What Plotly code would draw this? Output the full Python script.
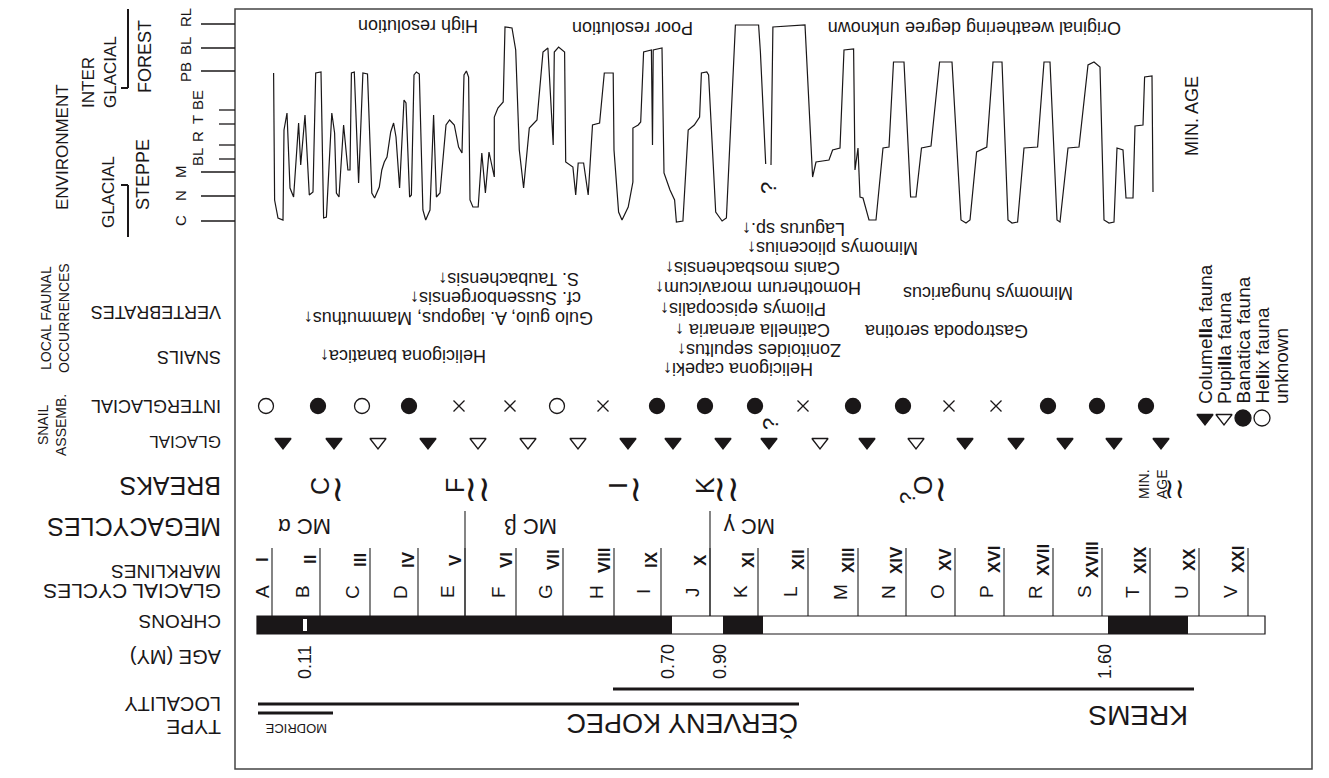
import plotly.graph_objects as go

W, H = 1329, 778
PAGE_MARGIN = 8  # default body margin of the html page
FONT = "Liberation Sans, Arial, sans-serif"
INK = "#1a1718"

# ---------------- environment curve (drawing units: x position, environment level) ----------------
env_x = [273.6, 274.6, 278, 283, 284, 287, 290, 293.6, 298.6, 300.7, 305, 309.3, 313, 315.7, 321, 323.6,
         326.4, 331.8, 334.6, 336.4, 339, 343.6, 347.9, 350, 351.4, 354.3, 358.6, 362.9, 367.5, 371.8,
         374.6, 379.3, 381.8, 384.3, 387, 390.7, 393.6, 396, 399.6, 404, 406, 409.6, 411.4, 414, 416.4,
         419.3, 422.9, 425.7, 430, 433.6, 436.4, 440, 446, 449.6, 454.3, 458.6, 462, 464, 466.4, 468.6,
         470, 472.9, 478.2, 481.8, 485.4, 489, 494.3, 494.3, 497.9, 503.2, 505, 512, 515.7, 519.3, 523.6,
         529.3, 537, 543, 547.9, 553.2, 554.3, 558.6, 564.6, 565.7, 572.9, 575.7, 578.2, 583.6, 588.2,
         592.5, 599.6, 604.3, 613.2, 614, 618.6, 622, 628.2, 632.9, 632.9, 638.2, 640.7, 643.6, 651.4,
         652.5, 653.2, 662, 664, 670, 674.6, 676.4, 682.9, 688.2, 694.3, 699.6, 701.4, 706.8, 708.6,
         715.7, 722.1, 726.4, 735.4, 758.6, 760.4, 763.9, 765.7, None,
         771, 772.9, 805, 812.6, 816, 829, 832.6, 840, 844, 853.6, 855, 858, 860, 863, 869, 876, 883, 889,
         893.5, 904, 910.6, 916, 921.5, 931, 939.6, 952, 961, 966, 970, 976.6, 986.8, 993, 1002, 1008,
         1012, 1017.6, 1024, 1037.6, 1044, 1050, 1057, 1060, 1068, 1079, 1088, 1094, 1100, 1104, 1109,
         1114, 1117, 1123, 1126, 1133, 1135, 1143, 1144.6, 1152, 1153]
env_y = [73, 200, 218, 220, 130, 113, 188, 197, 123, 165, 115, 195, 192, 73, 72, 218,
         217, 113, 133, 193, 197, 125, 170, 170, 73, 72, 183, 73, 74, 193,
         198, 187, 170, 162, 157, 132, 123, 137, 188, 100, 103, 197, 195, 75, 72,
         74, 210, 220, 210, 115, 197, 193, 125, 120, 125, 147, 153, 75, 71, 77,
         200, 207, 207, 153, 193, 152, 177, 117, 108, 102, 27, 28, 50, 150, 188,
         128, 120, 52, 48, 145, 52, 47, 52, 162, 167, 195, 163, 163, 195,
         125, 123, 73, 73, 150, 212, 220, 207, 182, 128, 125, 122, 52, 50,
         145, 50, 48, 173, 190, 200, 222, 221, 130, 125, 117, 73, 72, 75,
         212, 221, 218, 25, 25, 52, 137, 164, None,
         165, 27, 25, 177, 162, 160, 150, 148, 50, 49, 170, 148, 197, 198, 220, 220, 148, 147,
         62, 62, 197, 197, 148, 146, 62, 62, 220, 223, 220, 152, 147, 62, 62, 220,
         223, 222, 148, 147, 62, 62, 220, 222, 148, 147, 65, 62, 67, 220, 223,
         222, 148, 150, 198, 198, 126, 125, 77, 76, 192]

env_tick_y = [24, 48, 71, 110, 124, 145, 159, 172, 196, 221]
env_tick_long = [True, True, True, False, False, False, False, True, True, True]
env_tick_text = ["RL", "BL", "PB", "BE", "T", "R", "BL", "M", "N", "C"]
env_tick_text_y = [18, 46, 72, 100, 120, 137, 157, 172, 196, 221]
env_tick_text_x = [185, 185, 185, 197, 197, 197, 197, 180, 180, 180]

# ---------------- snail assemblages ----------------
inter_x = [266, 318, 362, 409, 459, 510, 557, 603, 657, 705, 755, 803, 853, 903, 949, 996, 1048, 1097, 1146]
inter_kind = ["o", "f", "o", "f", "x", "x", "o", "x", "f", "f", "f", "x", "f", "f", "x", "x", "f", "f", "f"]
glac_x = [283, 334, 378, 428, 478, 528, 578, 628, 673, 723, 769, 820, 867, 916, 965, 1016, 1065, 1114, 1161]
glac_kind = ["f", "f", "o", "f", "o", "o", "o", "f", "f", "f", "f", "o", "f", "o", "f", "f", "f", "f", "f"]

# ---------------- faunal occurrences ----------------
vert_text = ["S. Taubachensis↑", "cf. Sussenborgensis↑", "Gulo gulo, A. lagopus, Mammuthus↑",
             "Lagurus sp.↑", "Mimomys pliocenius↑", "Canis mosbachensis↑", "Homotherum moravicum↑",
             "Pliomys episcopalis↑"]
vert_x = [436, 408, 302, 740, 745, 663, 653, 658]
vert_y = [279, 298, 318, 229, 248, 268, 288, 309]
snail_text = ["Helicigona banatica↑", "Catinella arenaria ↑", "Zonitoides sepultus↑", "Helicigona capeki↑"]
snail_x = [318, 673, 675, 661]
snail_y = [356, 330, 350, 369]
other_text = ["Mimomys hungaricus", "Gastropoda serotina"]
other_right = [1075, 1030]
other_y = [293, 331]

# ---------------- cycles ----------------
cycle_letters = list("ABCDEFGHIJKLMNOPRSTUV")
cycle_numerals = ["I", "II", "III", "IV", "V", "VI", "VII", "VIII", "IX", "X", "XI", "XII", "XIII",
                  "XIV", "XV", "XVI", "XVII", "XVIII", "XIX", "XX", "XXI"]
cycle_bounds = [272, 320, 370, 418, 465, 516, 563, 614, 661, 710, 758, 808, 858, 906, 955,
                1004, 1053, 1102, 1150, 1199, 1248]
mega_bounds = [465, 710]
mega_labels = ["MC α", "MC β", "MC γ"]
mega_x = [305, 531, 750]

breaks_letters = ["C", "F", "I", "K", "O"]
breaks_x = [320, 455, 618, 705, 923]
breaks_wave = ["≀", "≀≀", "≀", "≀≀", "≀"]
breaks_wave_x = [338, 477, 636, 726, 941]

# ---------------- chrons / ages / localities ----------------
chron_edges = [257, 672, 723, 763, 1108, 1188, 1265]
chron_black = [True, False, True, False, True, False]
age_labels = ["0.11", "0.70", "0.90", "1.60"]
age_x = [305, 668, 720, 1105]
loc_names = ["MODRICE", "ČERVENY KOPEC", "KREMS"]
loc_start = [258, 258, 613]
loc_end = [333, 799, 1194]
loc_line_y = [713, 704, 689]

legend_text = ["Colume<b>ll</b>a fauna", "Pupi<b>ll</b>a fauna", "Banatica fauna", "He<b>l</b>ix fauna", "unknown"]
legend_x = [1205, 1224, 1243, 1262, 1281]

fig = go.Figure()

fig.add_trace(go.Scatter(x=env_x, y=env_y, mode="lines", line=dict(color=INK, width=1.2),
                         connectgaps=False, hoverinfo="skip"))


def sym(kind, tri):
    if kind == "x":
        return "x-thin-open"
    if tri:
        return "triangle-down" if kind == "f" else "triangle-down-open"
    return "circle" if kind == "f" else "circle-open"


for xs, kinds, yrow, tri in [(inter_x, inter_kind, 406, False), (glac_x, glac_kind, 442, True)]:
    fig.add_trace(go.Scatter(
        x=xs, y=[yrow] * len(xs), mode="markers", hoverinfo="skip", opacity=1,
        marker=dict(symbol=[sym(k, tri) for k in kinds],
                    size=[11 if k == "x" else (14 if tri else 15) for k in kinds],
                    color=INK, opacity=1, line=dict(color=INK, width=1.3))))

fig.add_trace(go.Scatter(
    x=legend_x[:4], y=[418] * 4, mode="markers", hoverinfo="skip",
    marker=dict(symbol=["triangle-down", "triangle-down-open", "circle", "circle-open"],
                size=[14, 14, 16, 16], color=INK, opacity=1, line=dict(color=INK, width=1.3))))

shapes = []
shapes.append(dict(type="rect", x0=235, y0=9, x1=1312, y1=769, line=dict(color="#444", width=1.5)))
for yv, lg in zip(env_tick_y, env_tick_long):
    shapes.append(dict(type="line", x0=201 if lg else 219, x1=235, y0=yv, y1=yv,
                       line=dict(color=INK, width=1.3)))
shapes += [dict(type="line", x0=128, x1=128, y0=9, y1=88, line=dict(color=INK, width=2)),
           dict(type="line", x0=121, x1=128, y0=88, y1=88, line=dict(color=INK, width=2)),
           dict(type="line", x0=128, x1=128, y0=185, y1=237, line=dict(color=INK, width=2)),
           dict(type="line", x0=121, x1=128, y0=185, y1=185, line=dict(color=INK, width=2))]
for b in cycle_bounds:
    shapes.append(dict(type="line", x0=b, x1=b, y0=548, y1=617, line=dict(color="#333", width=1.2)))
for b in mega_bounds:
    shapes.append(dict(type="line", x0=b, x1=b, y0=511, y1=617, line=dict(color="#333", width=1.2)))
for a, b, blk in zip(chron_edges[:-1], chron_edges[1:], chron_black):
    shapes.append(dict(type="rect", x0=a, x1=b, y0=616, y1=634, line=dict(width=0),
                       fillcolor=INK if blk else "white"))
shapes.append(dict(type="rect", x0=chron_edges[0], x1=chron_edges[-1], y0=616, y1=634,
                   line=dict(color=INK, width=1.2)))
shapes.append(dict(type="rect", x0=age_x[0] - 2, x1=age_x[0] + 2, y0=619, y1=631,
                   line=dict(width=0), fillcolor="white"))
for a, b, yv in zip(loc_start, loc_end, loc_line_y):
    shapes.append(dict(type="line", x0=a, x1=b, y0=yv, y1=yv, line=dict(color=INK, width=3)))

ann = []


def T(x, y, s, size, angle=0, xa="center", ya="middle", align="center", family=FONT):
    ann.append(dict(x=x, y=y, text=s, showarrow=False, textangle=angle, xanchor=xa, yanchor=ya,
                    align=align, font=dict(family=family, size=size, color=INK), xref="x", yref="y"))


T(62, 147, "ENVIRONMENT", 17, -90)
T(99, 110, "INTER<br>GLACIAL", 17, -90, ya="bottom", align="left")
T(145, 57, "FOREST", 18, -90)
T(108, 192, "GLACIAL", 17, -90)
T(143, 175, "STEPPE", 18, -90)
for tx, ty, s in zip(env_tick_text_x, env_tick_text_y, env_tick_text):
    T(tx, ty, s, 15, -90)
T(1192, 116, "MIN. AGE", 18, -90)

T(418, 26, "High resolution", 18, 180)
T(633, 28, "Poor resolution", 18, 180)
T(975, 28, "Original weathering degree unknown", 18, 180)
T(768, 188, "?", 22, -90)
T(770, 424, "?", 22, -90)

T(55, 318, "LOCAL FAUNAL<br>OCCURRENCES", 14, -90)
T(52, 425, "SNAIL<br>ASSEMB.", 14, -90)
row_lbl = ["VERTEBRATES", "SNAILS", "INTERGLACIAL", "GLACIAL", "BREAKS", "MEGACYCLES",
           "MARKLINES", "GLACIAL CYCLES", "CHRONS", "AGE (MY)", "LOCALITY", "TYPE"]
row_y = [312, 357, 406, 442, 486, 527, 572, 592, 622, 657, 704, 728]
row_size = [18, 18, 18, 17, 25, 25, 19, 21, 19, 20, 20, 21]
for s, yv, sz in zip(row_lbl, row_y, row_size):
    T(223, yv, s, sz, 180, xa="right")

for s, xv, yv in zip(vert_text + snail_text, vert_x + snail_x, vert_y + snail_y):
    T(xv, yv, s, 18, 180, xa="left")
for s, xv, yv in zip(other_text, other_right, other_y):
    T(xv, yv, s, 18, 180, xa="right")

for s, xv in zip(legend_text, legend_x):
    T(xv, 406, s, 19, -90, ya="bottom")

for s, xv in zip(breaks_letters, breaks_x):
    T(xv, 486, s, 25, -90)
for s, xv in zip(breaks_wave, breaks_wave_x):
    T(xv, 488, s, 36, 0, family="DejaVu Sans")
T(907, 498, "?", 22, -90)
T(1153, 484, "MIN.<br>AGE", 14, -90)
T(1174, 488, "≀≀", 28, 0, family="DejaVu Sans")

for s, xv in zip(mega_labels, mega_x):
    T(xv, 527, s, 22, 180)

for i, (L, N, b) in enumerate(zip(cycle_letters, cycle_numerals, cycle_bounds)):
    T(b - (10 if i == 0 else 18), 592, L, 19, -90)
    T(b - 10, 560, "<b>" + N + "</b>", 17, -90)

for s, xv in zip(age_labels, age_x):
    T(xv, 662, s, 18, -90)

T(296, 729, loc_names[0], 13, 180)
T(800, 724, loc_names[1], 27, 180, xa="right")
T(1190, 716, loc_names[2], 28, 180, xa="right")

fig.update_layout(
    width=W - 2 * PAGE_MARGIN, height=H - 2 * PAGE_MARGIN, margin=dict(l=0, r=0, t=0, b=0),
    paper_bgcolor="white", plot_bgcolor="white", showlegend=False,
    xaxis=dict(range=[PAGE_MARGIN, W - PAGE_MARGIN], visible=False, fixedrange=True),
    yaxis=dict(range=[H - PAGE_MARGIN, PAGE_MARGIN], visible=False, fixedrange=True),
    shapes=shapes, annotations=ann,
)
fig.write_html("out.html")
